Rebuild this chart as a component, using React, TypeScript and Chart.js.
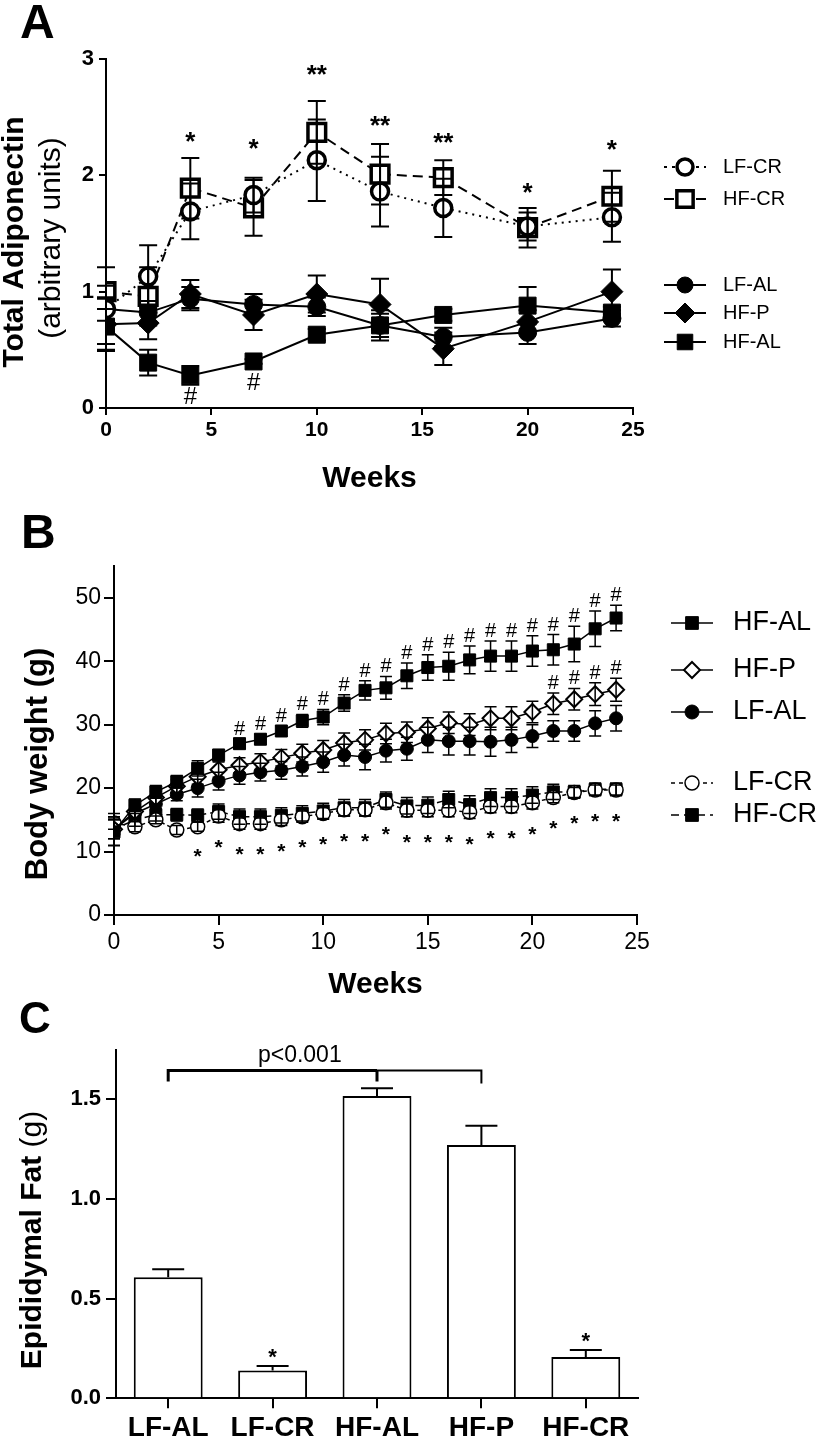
import React, { useEffect, useRef } from 'react';
import { Chart, registerables } from 'chart.js';
Chart.register(...registerables);

const FONT = '"Liberation Sans", Arial, Helvetica, sans-serif';
const fnt = (size: number, bold = false) => `${bold ? 'bold ' : ''}${size}px ${FONT}`;

// ---------------- Panel A: total adiponectin ----------------
const weeksA = [0, 2, 4, 7, 10, 13, 16, 20, 24];
const lfcrA = [0.85, 1.13, 1.69, 1.83, 2.13, 1.86, 1.72, 1.56, 1.64];
const lfcrAErr = [0.36, 0.27, 0.24, 0.15, 0.35, 0.3, 0.25, 0.12, 0.21];
const hfcrA = [1.0, 0.96, 1.89, 1.72, 2.37, 2.01, 1.98, 1.55, 1.82];
const hfcrAErr = [0.05, 0.25, 0.26, 0.24, 0.27, 0.26, 0.15, 0.17, 0.22];
const lfalA = [0.85, 0.82, 0.94, 0.89, 0.87, 0.71, 0.61, 0.65, 0.77];
const lfalAErr = [0.1, 0.1, 0.1, 0.09, 0.08, 0.1, 0.08, 0.1, 0.07];
const hfpA = [0.72, 0.73, 0.98, 0.8, 0.98, 0.89, 0.51, 0.74, 1.0];
const hfpAErr = [0.22, 0.14, 0.12, 0.13, 0.16, 0.22, 0.14, 0.1, 0.19];
const hfalA = [0.7, 0.39, 0.28, 0.4, 0.63, 0.71, 0.8, 0.88, 0.82];
const hfalAErr = [0.15, 0.11, 0.08, 0.02, 0.05, 0.13, 0.05, 0.16, 0.05];
const starsA = ['', '', '*', '*', '**', '**', '**', '*', '*'];
const starLevelA = [0, 0, 2.35, 2.29, 2.92, 2.48, 2.34, 1.91, 2.28];
const hashA = ['', '', '#', '#', '', '', '', '', ''];
const ticksAX = [0, 5, 10, 15, 20, 25];
const ticksAY = [0, 1, 2, 3];

// ---------------- Panel B: body weight ----------------
const weeksB = [0, 1, 2, 3, 4, 5, 6, 7, 8, 9, 10, 11, 12, 13, 14, 15, 16, 17, 18, 19, 20, 21, 22, 23, 24];
const hfalB = [13.1, 17.3, 19.4, 21.0, 23.1, 25.2, 27.0, 27.7, 29.0, 30.6, 31.2, 33.4, 35.4, 35.8, 37.7, 39.0, 39.2, 40.2, 40.8, 40.8, 41.6, 41.8, 42.7, 45.1, 46.8];
const hfalBErr = [2.2, 1.0, 1.0, 1.0, 1.2, 0.9, 0.8, 0.8, 0.8, 1.0, 1.2, 1.3, 1.5, 1.8, 2.0, 2.0, 2.2, 2.2, 2.4, 2.4, 2.4, 2.4, 2.8, 2.8, 2.0];
const hfpB = [13.5, 16.3, 18.5, 20.3, 21.8, 22.9, 23.6, 24.1, 24.8, 25.5, 26.0, 27.1, 27.6, 28.6, 28.8, 29.4, 30.3, 30.0, 31.0, 31.0, 32.0, 33.3, 34.0, 34.8, 35.5];
const hfpBErr = [1.5, 1.0, 1.0, 1.0, 1.2, 1.2, 1.2, 1.3, 1.3, 1.4, 1.5, 1.6, 1.6, 1.6, 1.6, 1.7, 1.7, 1.7, 1.8, 1.8, 1.7, 1.7, 1.7, 1.8, 1.8];
const lfalB = [13.5, 16.0, 17.5, 19.0, 20.0, 21.1, 22.0, 22.5, 22.8, 23.4, 24.1, 25.2, 24.9, 25.9, 26.2, 27.6, 27.4, 27.4, 27.3, 27.6, 28.2, 29.0, 29.0, 30.2, 31.0];
const lfalBErr = [1.5, 1.0, 1.0, 1.0, 1.4, 1.4, 1.4, 1.4, 1.4, 1.5, 1.6, 1.7, 2.0, 1.8, 1.8, 2.0, 2.2, 2.2, 2.3, 2.0, 1.8, 1.6, 1.6, 2.0, 2.0];
const lfcrB = [14.5, 13.9, 15.0, 13.4, 13.9, 15.6, 14.4, 14.4, 15.0, 15.5, 16.0, 16.6, 16.6, 17.7, 16.5, 16.5, 16.5, 16.2, 17.1, 17.1, 17.7, 18.5, 19.3, 19.7, 19.7];
const lfcrBErr = [1.0, 0.8, 0.6, 0.7, 0.7, 1.0, 0.9, 0.9, 0.9, 0.9, 0.9, 1.0, 1.0, 1.0, 1.0, 1.0, 1.0, 1.0, 1.0, 1.0, 1.0, 0.8, 0.8, 0.8, 0.8];
const hfcrB = [13.5, 15.0, 15.8, 15.8, 15.7, 16.3, 15.5, 15.5, 15.7, 16.0, 16.4, 16.9, 16.9, 18.2, 17.2, 17.3, 18.2, 17.4, 18.5, 18.5, 18.9, 19.4, 19.4, 19.8, 19.8];
const hfcrBErr = [2.5, 1.0, 1.0, 1.0, 1.0, 1.2, 1.2, 1.2, 1.2, 1.2, 1.2, 1.3, 1.3, 1.2, 1.3, 1.3, 1.3, 1.4, 1.4, 1.4, 1.3, 1.2, 1.0, 1.0, 1.0];
const starWeeksB = [4, 5, 6, 7, 8, 9, 10, 11, 12, 13, 14, 15, 16, 17, 18, 19, 20, 21, 22, 23, 24];
const hashWeeksHFAL = [6, 7, 8, 9, 10, 11, 12, 13, 14, 15, 16, 17, 18, 19, 20, 21, 22, 23, 24];
const hashWeeksHFP = [21, 22, 23, 24];
const ticksBX = [0, 5, 10, 15, 20, 25];
const ticksBY = [0, 10, 20, 30, 40, 50];

// ---------------- Panel C: epididymal fat ----------------
const groupsC = ['LF-AL', 'LF-CR', 'HF-AL', 'HF-P', 'HF-CR'];
const fatC = [0.607, 0.139, 1.517, 1.271, 0.207];
const fatCErr = [0.04, 0.023, 0.039, 0.097, 0.035];
const starsC = ['', '*', '', '', '*'];
const ticksCY = [0, 0.5, 1.0, 1.5];
const pLabel = 'p<0.001';
const bracketTop = 1.645;
const bracketFoot = 1.59;

// ---------------- helpers ----------------
function drawMarker(ctx: any, shape: string, x: number, y: number, r: number, fill: string, lw: number) {
  ctx.save();
  ctx.setLineDash([]);
  ctx.beginPath();
  if (shape === 'circle') ctx.arc(x, y, r, 0, Math.PI * 2);
  else if (shape === 'rect') {
    const s = r * Math.SQRT1_2;
    ctx.rect(x - s, y - s, 2 * s, 2 * s);
  } else {
    ctx.moveTo(x, y - r);
    ctx.lineTo(x + r, y);
    ctx.lineTo(x, y + r);
    ctx.lineTo(x - r, y);
    ctx.closePath();
  }
  ctx.fillStyle = fill;
  ctx.fill();
  ctx.lineWidth = lw;
  ctx.strokeStyle = '#000';
  ctx.stroke();
  ctx.restore();
}

function txt(ctx: any, s: string, x: number, y: number, font: string, align = 'center', base = 'alphabetic') {
  ctx.save();
  ctx.font = font;
  ctx.fillStyle = '#000';
  ctx.textAlign = align;
  ctx.textBaseline = base;
  ctx.fillText(s, x, y);
  ctx.restore();
}

function vtext(ctx: any, parts: [string, string][], x: number, cy: number) {
  ctx.save();
  ctx.translate(x, cy);
  ctx.rotate(-Math.PI / 2);
  let total = 0;
  for (const [s, font] of parts) {
    ctx.font = font;
    total += ctx.measureText(s).width;
  }
  let cur = -total / 2;
  ctx.textAlign = 'left';
  ctx.textBaseline = 'alphabetic';
  ctx.fillStyle = '#000';
  for (const [s, font] of parts) {
    ctx.font = font;
    ctx.fillText(s, cur, 0);
    cur += ctx.measureText(s).width;
  }
  ctx.restore();
}

type LegItem = { label: string; shape: string; fill: string; dash: number[]; r: number; mlw: number; y: number };
function drawLegend(ctx: any, items: LegItem[], x0: number, x1: number, xm: number, xt: number, lw: number, font: string) {
  for (const it of items) {
    ctx.save();
    ctx.strokeStyle = '#000';
    ctx.lineWidth = lw;
    ctx.setLineDash(it.dash);
    ctx.beginPath();
    ctx.moveTo(x0, it.y);
    ctx.lineTo(x1, it.y);
    ctx.stroke();
    ctx.restore();
    drawMarker(ctx, it.shape, xm, it.y, it.r, it.fill, it.mlw);
    txt(ctx, it.label, xt, it.y, font, 'left', 'middle');
  }
}

function errPlugin(cap: number, lw: number, upOnly: boolean) {
  return {
    id: 'errbars',
    afterDatasetsDraw(chart: any) {
      const ctx = chart.ctx;
      const ys = chart.scales.y;
      chart.data.datasets.forEach((ds: any, i: number) => {
        if (!ds.errors) return;
        const meta = chart.getDatasetMeta(i);
        meta.data.forEach((el: any, j: number) => {
          const raw = ds.data[j];
          const v = typeof raw === 'number' ? raw : raw.y;
          const e = ds.errors[j];
          if (!e) return;
          const x = el.x;
          const yT = ys.getPixelForValue(v + e);
          const yB = upOnly ? ys.getPixelForValue(v) : ys.getPixelForValue(v - e);
          ctx.save();
          ctx.strokeStyle = '#000';
          ctx.lineWidth = lw;
          ctx.setLineDash([]);
          ctx.beginPath();
          ctx.moveTo(x, yT);
          ctx.lineTo(x, yB);
          ctx.moveTo(x - cap, yT);
          ctx.lineTo(x + cap, yT);
          if (!upOnly) {
            ctx.moveTo(x - cap, yB);
            ctx.lineTo(x + cap, yB);
          }
          ctx.stroke();
          ctx.restore();
        });
      });
    },
  };
}

function axisOpts(tickLen: number, size: number, bold: boolean, pad: number, fixedTicks?: number[], fmt?: (v: number) => string) {
  const o: any = {
    grid: { display: true, drawOnChartArea: false, drawTicks: true, tickLength: tickLen, color: '#000', lineWidth: 2, offset: false },
    border: { display: true, color: '#000', width: 2 },
    ticks: { color: '#000', font: { family: FONT, size, weight: bold ? 'bold' : 'normal' }, padding: pad },
  };
  if (fixedTicks) o.afterBuildTicks = (s: any) => { s.ticks = fixedTicks.map((v) => ({ value: v })); };
  if (fmt) o.ticks.callback = (v: any) => fmt(Number(v));
  return o;
}

const pts = (xs: number[], ys: number[]) => xs.map((x, i) => ({ x, y: ys[i] }));

// ---------------- chart configs ----------------
function configA(): any {
  const line = (label: string, ys: number[], errs: number[], dash: number[], shape: string, r: number, fill: string, blw: number) => ({
    label,
    data: pts(weeksA, ys),
    errors: errs,
    borderColor: '#000',
    borderWidth: 2,
    borderDash: dash,
    pointStyle: shape,
    pointRadius: r,
    pointBorderWidth: blw,
    pointBackgroundColor: fill,
    pointBorderColor: '#000',
    tension: 0,
  });
  const decor = {
    id: 'decorA',
    afterDraw(chart: any) {
      const ctx = chart.ctx;
      const xs = chart.scales.x;
      const ys = chart.scales.y;
      txt(ctx, 'A', 20, 38, fnt(48, true), 'left');
      vtext(ctx, [['Total Adiponectin', fnt(30, true)]], 23, 242);
      vtext(ctx, [['(arbitrary units)', fnt(30)]], 60, 238);
      txt(ctx, 'Weeks', (chart.chartArea.left + chart.chartArea.right) / 2, 487, fnt(30, true));
      weeksA.forEach((w, i) => {
        const x = xs.getPixelForValue(w);
        if (starsA[i]) txt(ctx, starsA[i], x, ys.getPixelForValue(starLevelA[i]) + 15, fnt(26, true));
        if (hashA[i]) txt(ctx, hashA[i], x, ys.getPixelForValue(hfalA[i]) + 29, fnt(24));
      });
      drawLegend(ctx, [
        { label: 'LF-CR', shape: 'circle', fill: '#fff', dash: [3, 5], r: 8, mlw: 3.5, y: 167 },
        { label: 'HF-CR', shape: 'rect', fill: '#fff', dash: [10, 6], r: 11.5, mlw: 3.5, y: 199 },
        { label: 'LF-AL', shape: 'circle', fill: '#000', dash: [], r: 8, mlw: 1, y: 285 },
        { label: 'HF-P', shape: 'diamond', fill: '#000', dash: [], r: 10, mlw: 1, y: 313 },
        { label: 'HF-AL', shape: 'rect', fill: '#000', dash: [], r: 11, mlw: 1, y: 342 },
      ], 664, 706, 685, 723, 2, fnt(20));
    },
  };
  return {
    type: 'line',
    data: {
      datasets: [
        line('LF-CR', lfcrA, lfcrAErr, [2, 5], 'circle', 8.5, '#fff', 3.5),
        line('HF-CR', hfcrA, hfcrAErr, [10, 6], 'rect', 12.5, '#fff', 3.5),
        line('LF-AL', lfalA, lfalAErr, [], 'circle', 9, '#000', 1),
        line('HF-P', hfpA, hfpAErr, [], 'rectRot', 11, '#000', 1),
        line('HF-AL', hfalA, hfalAErr, [], 'rect', 12, '#000', 1),
      ],
    },
    options: {
      animation: false,
      responsive: false,
      events: [],
      layout: { padding: { top: 59, right: 189, left: 0, bottom: 0 } },
      plugins: { legend: { display: false }, tooltip: { enabled: false } },
      scales: {
        x: {
          type: 'linear', min: 0, max: 25,
          ...axisOpts(7, 21, true, 3, ticksAX),
          afterFit: (s: any) => { s.height = 92; },
        },
        y: {
          type: 'linear', min: 0, max: 3,
          ...axisOpts(7, 22, true, 5, ticksAY, (v) => String(v)),
          afterFit: (s: any) => { s.width = 106; },
        },
      },
    },
    plugins: [errPlugin(9, 2, false), decor],
  };
}

function configB(): any {
  const line = (label: string, ys: number[], errs: number[], dash: number[], shape: string, r: number, fill: string, blw: number) => ({
    label,
    data: pts(weeksB, ys),
    errors: errs,
    borderColor: '#000',
    borderWidth: 1.5,
    borderDash: dash,
    pointStyle: shape,
    pointRadius: r,
    pointBorderWidth: blw,
    pointBackgroundColor: fill,
    pointBorderColor: '#000',
    tension: 0,
  });
  const decor = {
    id: 'decorB',
    afterDraw(chart: any) {
      const ctx = chart.ctx;
      const xs = chart.scales.x;
      const ys = chart.scales.y;
      txt(ctx, 'B', 21, 48, fnt(48, true), 'left');
      vtext(ctx, [['Body weight (g)', fnt(31, true)]], 47, 264);
      txt(ctx, 'Weeks', (chart.chartArea.left + chart.chartArea.right) / 2, 493, fnt(30, true));
      starWeeksB.forEach((w) => {
        const i = weeksB.indexOf(w);
        const low = Math.min(lfcrB[i] - lfcrBErr[i], hfcrB[i] - hfcrBErr[i]);
        txt(ctx, '*', xs.getPixelForValue(w), ys.getPixelForValue(low) + 32, fnt(21, true));
      });
      hashWeeksHFAL.forEach((w) => {
        const i = weeksB.indexOf(w);
        txt(ctx, '#', xs.getPixelForValue(w), ys.getPixelForValue(hfalB[i] + hfalBErr[i]) - 4, fnt(20));
      });
      hashWeeksHFP.forEach((w) => {
        const i = weeksB.indexOf(w);
        txt(ctx, '#', xs.getPixelForValue(w), ys.getPixelForValue(hfpB[i] + hfpBErr[i]) - 4, fnt(20));
      });
      drawLegend(ctx, [
        { label: 'HF-AL', shape: 'rect', fill: '#000', dash: [], r: 9, mlw: 1, y: 123 },
        { label: 'HF-P', shape: 'diamond', fill: '#fff', dash: [], r: 8, mlw: 2, y: 170 },
        { label: 'LF-AL', shape: 'circle', fill: '#000', dash: [], r: 7, mlw: 1, y: 212 },
        { label: 'LF-CR', shape: 'circle', fill: '#fff', dash: [4, 4], r: 7, mlw: 1.5, y: 283 },
        { label: 'HF-CR', shape: 'rect', fill: '#000', dash: [8, 5], r: 9, mlw: 1, y: 315 },
      ], 671, 713, 692, 733, 1.5, fnt(27));
    },
  };
  return {
    type: 'line',
    data: {
      datasets: [
        line('HF-AL', hfalB, hfalBErr, [], 'rect', 8.5, '#000', 1),
        line('HF-P', hfpB, hfpBErr, [], 'rectRot', 8, '#fff', 2),
        line('LF-AL', lfalB, lfalBErr, [], 'circle', 6.5, '#000', 1),
        line('LF-CR', lfcrB, lfcrBErr, [4, 3], 'circle', 7, '#fff', 1.5),
        line('HF-CR', hfcrB, hfcrBErr, [7, 4], 'rect', 8.5, '#000', 1),
      ],
    },
    options: {
      animation: false,
      responsive: false,
      events: [],
      layout: { padding: { top: 66, right: 185, left: 0, bottom: 0 } },
      plugins: { legend: { display: false }, tooltip: { enabled: false } },
      scales: {
        x: {
          type: 'linear', min: 0, max: 25,
          ...axisOpts(10, 23, false, 4, ticksBX),
          afterFit: (s: any) => { s.height = 85; },
        },
        y: {
          type: 'linear', min: 0, max: 55,
          ...axisOpts(10, 23, false, 3, ticksBY),
          afterFit: (s: any) => { s.width = 114; },
        },
      },
    },
    plugins: [errPlugin(6, 1.5, false), decor],
  };
}

function configC(): any {
  const decor = {
    id: 'decorC',
    afterDraw(chart: any) {
      const ctx = chart.ctx;
      const xs = chart.scales.x;
      const ys = chart.scales.y;
      txt(ctx, 'C', 19, 33, fnt(44, true), 'left');
      vtext(ctx, [['Epididymal Fat', fnt(30, true)], [' (g)', fnt(30)]], 41, 240);
      groupsC.forEach((g, i) => {
        if (starsC[i]) txt(ctx, starsC[i], xs.getPixelForValue(i), ys.getPixelForValue(fatC[i] + fatCErr[i]) - 2, fnt(22, true));
      });
      const xa = xs.getPixelForValue(0);
      const xb = xs.getPixelForValue(2);
      const xc = xs.getPixelForValue(3);
      const yt = ys.getPixelForValue(bracketTop);
      const yf = ys.getPixelForValue(bracketFoot);
      ctx.save();
      ctx.strokeStyle = '#000';
      ctx.lineWidth = 3;
      ctx.beginPath();
      ctx.moveTo(xa, yf);
      ctx.lineTo(xa, yt);
      ctx.lineTo(xb, yt);
      ctx.moveTo(xb, yt);
      ctx.lineTo(xb, yf);
      ctx.stroke();
      ctx.lineWidth = 2;
      ctx.beginPath();
      ctx.moveTo(xb, yt);
      ctx.lineTo(xc, yt);
      ctx.lineTo(xc, yf + 2);
      ctx.stroke();
      ctx.restore();
      txt(ctx, pLabel, (xa + xc) / 2 - 25, yt - 8, fnt(23));
    },
  };
  return {
    type: 'bar',
    data: {
      labels: groupsC,
      datasets: [{
        label: 'Epididymal fat',
        data: fatC,
        errors: fatCErr,
        backgroundColor: '#fff',
        borderColor: '#000',
        borderWidth: 2,
        barPercentage: 0.66,
        categoryPercentage: 1,
      }],
    },
    options: {
      animation: false,
      responsive: false,
      events: [],
      layout: { padding: { top: 49.5, right: 184, left: 0, bottom: 0 } },
      plugins: { legend: { display: false }, tooltip: { enabled: false } },
      scales: {
        x: {
          type: 'category',
          ...axisOpts(10, 28, true, 3),
          afterFit: (s: any) => { s.height = 39.7; },
        },
        y: {
          type: 'linear', min: 0, max: 1.75,
          ...axisOpts(10, 22, true, 5, ticksCY, (v) => v.toFixed(1)),
          afterFit: (s: any) => { s.width = 116; },
        },
      },
    },
    plugins: [errPlugin(16, 2, true), decor],
  };
}

function ChartCanvas({ make, top, height }: { make: () => any; top: number; height: number }) {
  const ref = useRef<HTMLCanvasElement | null>(null);
  useEffect(() => {
    if (!ref.current) return;
    const chart = new Chart(ref.current, make());
    return () => chart.destroy();
  }, [make]);
  return (
    <canvas
      ref={ref}
      width={822}
      height={height}
      style={{ position: 'absolute', left: 0, top, width: 822, height, display: 'block' }}
    />
  );
}

export default function App() {
  return (
    <div style={{ position: 'absolute', left: 0, top: 0, width: 822, height: 1438, overflow: 'hidden', background: '#fff' }}>
      <ChartCanvas make={configA} top={0} height={500} />
      <ChartCanvas make={configB} top={500} height={500} />
      <ChartCanvas make={configC} top={1000} height={438} />
    </div>
  );
}
